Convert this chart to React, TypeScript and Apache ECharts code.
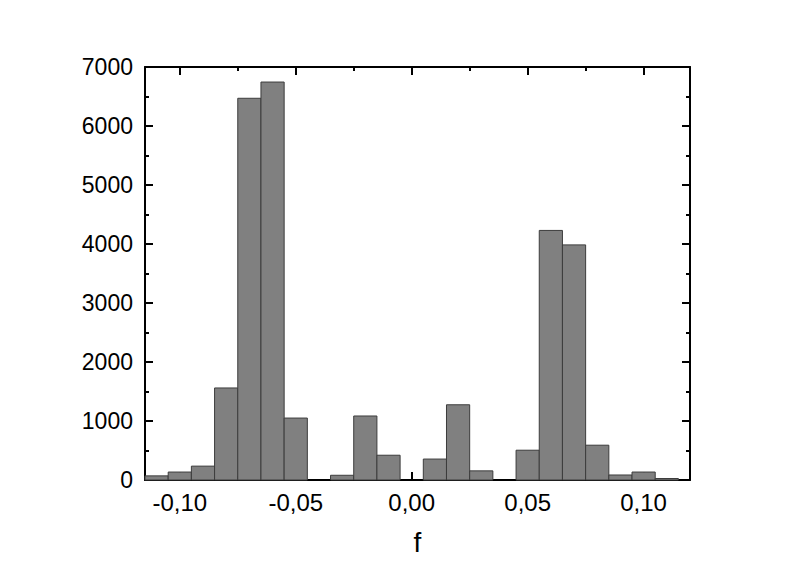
import React, { useEffect, useRef } from "react";
import * as echarts from "echarts";

// Histogram bins (centre of each bin) and counts
const binCenters = [
  -0.11, -0.1, -0.09, -0.08, -0.07, -0.06, -0.05, -0.04, -0.03, -0.02, -0.01, 0.0,
  0.01, 0.02, 0.03, 0.04, 0.05, 0.06, 0.07, 0.08, 0.09, 0.1, 0.11,
];
const counts = [
  70, 135, 235, 1560, 6470, 6745, 1050, 0, 80, 1085, 420, 0,
  355, 1275, 155, 0, 505, 4230, 3985, 590, 85, 135, 25,
];
const binWidth = 0.01;

const xMin = -0.115;
const xMax = 0.12;
const xMajorTicks = [-0.1, -0.05, 0, 0.05, 0.1];
const xMinorTicks = [-0.075, -0.025, 0.025, 0.075];

const yMin = 0;
const yMax = 7000;
const yInterval = 1000;

const xAxisTitle = "f";

const FONT = "'Liberation Sans', Arial, sans-serif";

export default function App() {
  const ref = useRef<HTMLDivElement>(null);

  useEffect(() => {
    if (!ref.current) return;
    const chart = echarts.init(ref.current, null, { renderer: "svg" });

    const black = "#000000";
    const fmt = (v: number) => v.toFixed(2).replace(".", ",");

    const baseX = {
      type: "value" as const,
      min: xMin,
      max: xMax,
      splitLine: { show: false },
      minorSplitLine: { show: false },
    };

    const xMajor = (position: "bottom" | "top", labels: boolean) => ({
      ...baseX,
      position,
      axisLine: { show: true, onZero: false, lineStyle: { color: black, width: 2 } },
      axisTick: {
        show: true,
        inside: true,
        length: 8,
        customValues: xMajorTicks,
        lineStyle: { color: black, width: 2 },
      },
      axisLabel: {
        show: labels,
        customValues: xMajorTicks,
        formatter: fmt,
        color: black,
        fontSize: 24,
        fontFamily: FONT,
        margin: 10,
      },
    });

    const xMinor = (position: "bottom" | "top") => ({
      ...baseX,
      position,
      axisLine: { show: false, onZero: false },
      axisTick: {
        show: true,
        inside: true,
        length: 4,
        customValues: xMinorTicks,
        lineStyle: { color: black, width: 2 },
      },
      axisLabel: { show: false },
    });

    const yAxisDef = (position: "left" | "right", labels: boolean) => ({
      type: "value" as const,
      position,
      min: yMin,
      max: yMax,
      interval: yInterval,
      axisLine: { show: true, onZero: false, lineStyle: { color: black, width: 2 } },
      axisTick: { show: true, inside: true, length: 8, lineStyle: { color: black, width: 2 } },
      minorTick: { show: true, splitNumber: 2, length: 4, lineStyle: { color: black, width: 2 } },
      axisLabel: {
        show: labels,
        formatter: (v: number) => String(Math.round(v)),
        color: black,
        fontSize: 23,
        fontFamily: FONT,
        margin: 12,
      },
      splitLine: { show: false },
      minorSplitLine: { show: false },
    });

    const bottomMajor: any = xMajor("bottom", true);
    bottomMajor.name = xAxisTitle;
    bottomMajor.nameLocation = "middle";
    bottomMajor.nameGap = 48;
    bottomMajor.nameTextStyle = { color: black, fontSize: 28, fontFamily: FONT };

    chart.setOption({
      animation: false,
      backgroundColor: "#ffffff",
      grid: {
        left: 145,
        right: 111,
        top: 67,
        bottom: 96,
        containLabel: false,
        outerBoundsMode: "none",
      },
      xAxis: [bottomMajor, xMinor("bottom"), xMajor("top", false), xMinor("top")],
      yAxis: [yAxisDef("left", true), yAxisDef("right", false)],
      series: [
        {
          type: "custom",
          xAxisIndex: 0,
          yAxisIndex: 0,
          encode: { x: 0, y: 1 },
          data: binCenters.map((c, i) => [c, counts[i]]),
          renderItem: (params: any, api: any) => {
            const c = api.value(0) as number;
            const v = api.value(1) as number;
            if (!v) return null;
            const p0 = api.coord([c - binWidth / 2, v]);
            const p1 = api.coord([c + binWidth / 2, 0]);
            return {
              type: "rect",
              shape: { x: p0[0], y: p0[1], width: p1[0] - p0[0], height: p1[1] - p0[1] },
              style: { fill: "#808080", stroke: "#3c3c3c", lineWidth: 1 },
            };
          },
          z: 1,
        },
      ],
    });

    return () => chart.dispose();
  }, []);

  return (
    <div
      ref={ref}
      style={{ position: "fixed", left: 0, top: 0, width: 801, height: 576, background: "#fff" }}
    />
  );
}
